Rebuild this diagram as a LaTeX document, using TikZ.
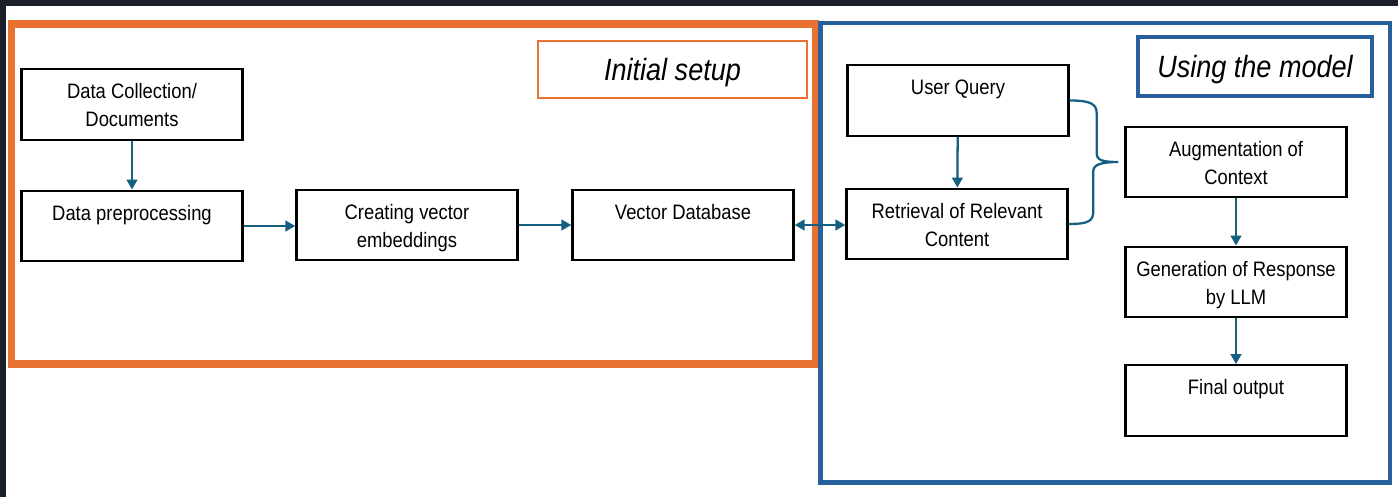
\documentclass[tikz,border=0pt]{standalone}
\usepackage{fontspec}
\setmainfont{Liberation Sans}[FakeStretch=0.88]
\usetikzlibrary{arrows.meta,calc}
\definecolor{darkbg}{HTML}{1B1F2A}
\definecolor{setuporange}{HTML}{E97132}
\definecolor{modelblue}{HTML}{28609C}
\definecolor{linkblue}{HTML}{156082}

\begin{document}
\begin{tikzpicture}[x=0.02cm,y=-0.02cm,
  box/.style={draw,line width=1.4pt,inner sep=0pt,align=center,
    minimum width=4.42cm,minimum height=1.41cm,
    font=\fontsize{11.9}{15.9}\selectfont,
    execute at begin node=\rule[-4.8pt]{0pt}{34.9pt}},
  link/.style={linkblue,line width=1.3pt,-{Triangle[length=5.6pt,width=6pt]}},
  twoway/.style={link,{Triangle[length=5.6pt,width=6pt]}-{Triangle[length=5.6pt,width=6pt]}},
  title/.style={fill=white,inner sep=0pt,text height=12.5pt,text depth=0pt,
    font=\fontsize{17.5}{21}\selectfont\itshape}]
  \useasboundingbox (0,0) rectangle (1398,497);
  \fill[darkbg] (0,0) rectangle (1398,497);
  \fill[white] (6,6) rectangle (1398,497);

  % the two phases
  \draw[setuporange,line width=4pt] (11.5,24) rectangle (815.5,364);
  \draw[modelblue,line width=2.8pt] (820.5,23) rectangle (1390,482.5);
  \node[title,draw=setuporange,line width=1.2pt,minimum width=5.38cm,minimum height=1.14cm] (setup) at (672.5,69.5) {Initial setup};
  \node[title,draw=modelblue,line width=2.2pt,minimum width=4.68cm,minimum height=1.18cm] (model) at (1255,66.5) {Using the model};

  % initial setup
  \node[box] (collect) at (132,104.5) {Data Collection/\\Documents};
  \node[box] (prep) at (132,226) {Data preprocessing\\};
  \node[box] (embed) at (407,225) {Creating vector\\embeddings};
  \node[box] (vecdb) at (683,225) {Vector Database\\};

  % using the model
  \node[box] (query) at (958,100.5) {User Query\\};
  \node[box] (retrieve) at (957,224) {Retrieval of Relevant\\Content};
  \node[box] (augment) at (1236,162) {Augmentation of\\Context};
  \node[box] (generate) at (1236,282) {Generation of Response\\by LLM};
  \node[box] (final) at (1236,400.5) {Final output\\};

  \draw[link] (collect) -- (prep);
  \draw[link] (prep.east) -- (prep.east -| embed.west);
  \draw[link] (embed.east) -- (embed.east -| vecdb.west);
  \draw[twoway] (vecdb.east) -- (vecdb.east -| retrieve.west);
  \draw[link] (query) -- (retrieve);
  \draw[link] (augment) -- (generate);
  \draw[link] (generate) -- (final);

  % brace joining query and retrieval
  \coordinate (bracetip) at ($(augment.west)+(-6,0)$);
  \draw[linkblue,line width=1.3pt] (query.east)
    .. controls +(20,0) and +(0,-10) .. ++(27,13) -- ++(0,40)
    .. controls +(0,7) and +(-15,0) .. (bracetip)
    .. controls +(-15,0) and +(0,-7) .. ++(-25,9) -- ++(0,40)
    .. controls +(0,10) and +(20,0) .. (retrieve.east);
\end{tikzpicture}
\end{document}
